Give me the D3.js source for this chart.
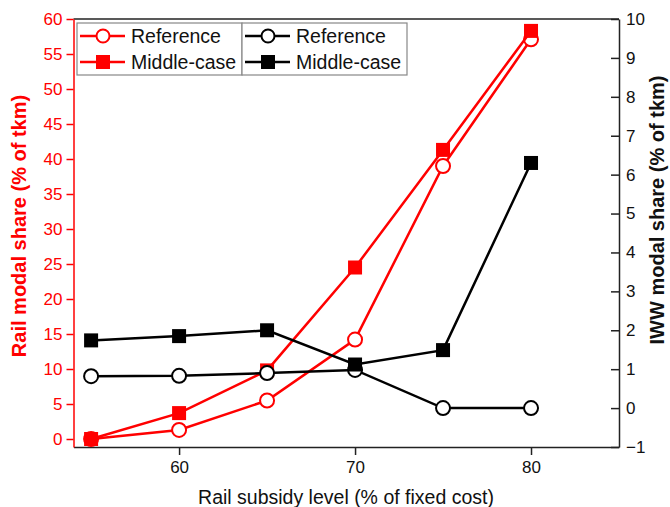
<!DOCTYPE html>
<html>
<head>
<meta charset="utf-8">
<script src="https://cdn.jsdelivr.net/npm/d3@7"></script>
<style>
  body { margin: 0; background: #fff; }
  text { font-family: Arial, "Liberation Sans", sans-serif; }
</style>
</head>
<body>
<svg width="670" height="507"></svg>
<script>
// subsidy levels (x) and modal shares
var subsidy = [55, 60, 65, 70, 75, 80];
var railReference = [0, 1.3, 5.5, 14.2, 39.0, 57.1];
var railMiddle = [0, 3.7, 9.8, 24.5, 41.3, 58.3];
var iwwReference = [0.82, 0.83, 0.9, 0.98, 0.0, 0.0];
var iwwMiddle = [1.74, 1.85, 2.0, 1.12, 1.49, 6.3];

var xMajor = [60, 70, 80];
var xMinor = [55, 65, 75, 85];
var leftTicks = d3.range(0, 61, 5);
var rightTicks = d3.range(-1, 11, 1);

var red = "#ff0000";
var svg = d3.select("svg");

var pLeft = 73.5, pRight = 619, pTop = 19, pBottom = 447;

var x = d3.scaleLinear().domain([54, 85]).range([pLeft, pRight]);
var yL = d3.scaleLinear().domain([-1.143, 60]).range([pBottom, pTop]);
var yR = d3.scaleLinear().domain([-1, 10]).range([pBottom, pTop]);

// top frame line
svg.append("line")
  .attr("x1", pLeft).attr("x2", pRight)
  .attr("y1", pTop).attr("y2", pTop)
  .attr("stroke", "#222").attr("stroke-width", 1.5);

// bottom axis
var gx = svg.append("g").attr("transform", "translate(0," + pBottom + ")");
gx.call(d3.axisBottom(x).tickValues(xMinor).tickSize(5).tickSizeOuter(0).tickFormat(""));
gx.call(d3.axisBottom(x).tickValues(xMajor).tickSize(8).tickSizeOuter(0).tickPadding(6));
gx.selectAll("text").attr("font-size", "17px").attr("fill", "#111");
gx.selectAll("path, line").attr("stroke", "#222").attr("stroke-width", 1.5);

// left axis (rail, red)
var gl = svg.append("g").attr("transform", "translate(" + pLeft + ",0)");
gl.call(d3.axisLeft(yL).tickValues(d3.range(2.5, 60, 5)).tickSize(4).tickSizeOuter(0).tickFormat(""));
gl.call(d3.axisLeft(yL).tickValues(leftTicks).tickSize(7).tickSizeOuter(0).tickPadding(4));
gl.selectAll("text").attr("font-size", "17px").attr("fill", red);
gl.selectAll("path, line").attr("stroke", red).attr("stroke-width", 1.5);

// right axis (IWW, ticks pointing inward)
var gr = svg.append("g").attr("transform", "translate(" + pRight + ",0)");
gr.call(d3.axisRight(yR).tickValues(d3.range(-0.5, 10, 1)).tickSize(-4).tickSizeOuter(0).tickFormat(""));
gr.call(d3.axisRight(yR).tickValues(rightTicks).tickSize(-8).tickSizeOuter(0).tickPadding(7));
gr.selectAll("text").attr("font-size", "17px").attr("fill", "#111");
gr.selectAll("path, line").attr("stroke", "#222").attr("stroke-width", 1.5);

// series
var series = [
  { vals: railReference, y: yL, color: red, marker: "circle" },
  { vals: railMiddle, y: yL, color: red, marker: "square" },
  { vals: iwwReference, y: yR, color: "#000", marker: "circle" },
  { vals: iwwMiddle, y: yR, color: "#000", marker: "square" }
];

series.forEach(function (s) {
  var pts = subsidy.map(function (d, i) { return [d, s.vals[i]]; });
  var line = d3.line().x(function (d) { return x(d[0]); }).y(function (d) { return s.y(d[1]); });
  var g = svg.append("g");
  g.append("path").datum(pts)
    .attr("d", line).attr("fill", "none")
    .attr("stroke", s.color).attr("stroke-width", 2.5);
  if (s.marker == "circle") {
    g.selectAll("circle").data(pts).enter().append("circle")
      .attr("cx", function (d) { return x(d[0]); })
      .attr("cy", function (d) { return s.y(d[1]); })
      .attr("r", 7)
      .attr("fill", "#fff").attr("stroke", s.color).attr("stroke-width", 2);
  } else {
    g.selectAll("rect").data(pts).enter().append("rect")
      .attr("x", function (d) { return x(d[0]) - 7; })
      .attr("y", function (d) { return s.y(d[1]) - 7; })
      .attr("width", 14).attr("height", 14)
      .attr("fill", s.color);
  }
});

// legend: two boxes side by side
var legendBoxes = [
  { x0: 77, color: red },
  { x0: 242, color: "#000" }
];
var legendLabels = ["Reference", "Middle-case"];
legendBoxes.forEach(function (b) {
  svg.append("rect")
    .attr("x", b.x0).attr("y", 23).attr("width", 165).attr("height", 52)
    .attr("fill", "#fff").attr("stroke", "#888").attr("stroke-width", 1.2);
  legendLabels.forEach(function (lab, i) {
    var yy = 36 + i * 26;
    svg.append("line")
      .attr("x1", b.x0 + 3).attr("x2", b.x0 + 48)
      .attr("y1", yy).attr("y2", yy)
      .attr("stroke", b.color).attr("stroke-width", 2.5);
    if (i == 0) {
      svg.append("circle").attr("cx", b.x0 + 26).attr("cy", yy).attr("r", 6.5)
        .attr("fill", "#fff").attr("stroke", b.color).attr("stroke-width", 2);
    } else {
      svg.append("rect").attr("x", b.x0 + 19).attr("y", yy - 7)
        .attr("width", 14).attr("height", 14).attr("fill", b.color);
    }
    svg.append("text")
      .attr("x", b.x0 + 54).attr("y", yy)
      .attr("dy", "0.36em")
      .attr("font-size", "19.5px")
      .attr("fill", "#111")
      .text(lab);
  });
});

// axis titles
svg.append("text")
  .attr("transform", "translate(19," + 226 + ") rotate(-90)")
  .attr("text-anchor", "middle").attr("dy", "0.35em")
  .attr("font-size", "20px").attr("font-weight", "bold")
  .attr("fill", red)
  .text("Rail modal share (% of tkm)");

svg.append("text")
  .attr("transform", "translate(657," + 210 + ") rotate(-90)")
  .attr("text-anchor", "middle").attr("dy", "0.35em")
  .attr("font-size", "20px").attr("font-weight", "bold")
  .attr("fill", "#111")
  .text("IWW modal share (% of tkm)");

svg.append("text")
  .attr("x", 346).attr("y", 497)
  .attr("text-anchor", "middle").attr("dy", "0.35em")
  .attr("font-size", "19.5px")
  .attr("fill", "#111")
  .text("Rail subsidy level (% of fixed cost)");
</script>
</body>
</html>
